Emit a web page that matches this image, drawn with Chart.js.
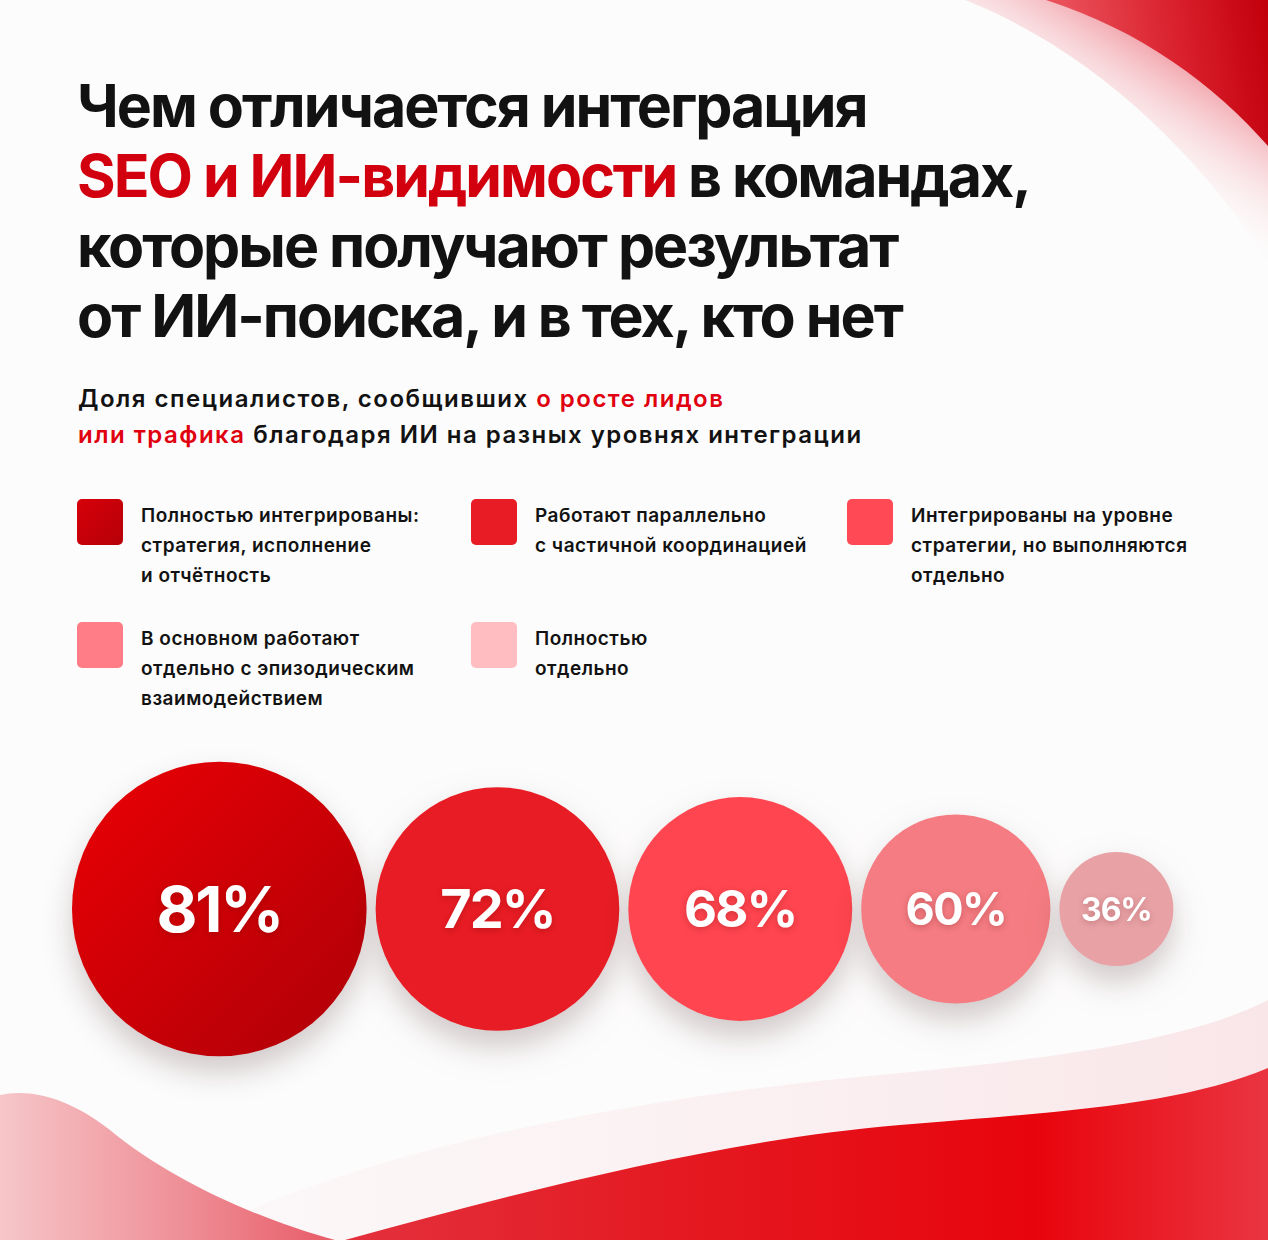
<!DOCTYPE html>
<html lang="ru">
<head>
<meta charset="utf-8">
<title>Интеграция SEO и ИИ-видимости</title>
<script src="https://cdn.jsdelivr.net/npm/chart.js@4.4.1/dist/chart.umd.min.js"></script>
<style>
  html, body { margin: 0; padding: 0; }
  body {
    width: 1268px; height: 1240px; position: relative; overflow: hidden;
    background: #fcfcfc; color: #121212;
    font-family: Inter, "Noto Sans", sans-serif;
  }
  #bg { position: absolute; left: 0; top: 0; z-index: 0; }
  h1 {
    position: absolute; left: 77px; top: 71px; margin: 0; z-index: 1;
    font-size: 59px; line-height: 70px; font-weight: 700; letter-spacing: -2px;
  }
  h1 .red { color: #d2000f; }
  .sub {
    position: absolute; left: 78px; top: 381px; z-index: 1;
    font-size: 24px; line-height: 36px; font-weight: 600; letter-spacing: 1.5px;
  }
  .sub .red { color: #e0000f; }
  #legend {
    position: absolute; left: 77px; top: 499px; z-index: 1;
    display: grid; grid-template-columns: 394px 376px 370px; grid-auto-rows: 123px;
  }
  .item { display: flex; align-items: flex-start; }
  .sw { width: 46px; height: 46px; border-radius: 5px; flex: none; }
  .lbl { margin-left: 18px; margin-top: 2px; font-size: 19px; line-height: 30px; font-weight: 600; letter-spacing: 0.5px; white-space: pre-line; }
  .chart-box { position: absolute; left: 0; top: 709px; width: 1268px; height: 400px; z-index: 1; }
</style>
</head>
<body>
<svg id="bg" width="1268" height="1240" viewBox="0 0 1268 1240">
  <defs>
    <linearGradient id="topFade" gradientUnits="userSpaceOnUse" x1="1165" y1="55" x2="1095" y2="165">
      <stop offset="0" stop-color="#f2a9b0" stop-opacity="1"/>
      <stop offset="1" stop-color="#ffffff" stop-opacity="0"/>
    </linearGradient>
    <linearGradient id="topRed" gradientUnits="userSpaceOnUse" x1="1070" y1="50" x2="1268" y2="20">
      <stop offset="0" stop-color="#e9505a"/>
      <stop offset="0.55" stop-color="#d9202c"/>
      <stop offset="1" stop-color="#c2000c"/>
    </linearGradient>
    <linearGradient id="botBand" gradientUnits="userSpaceOnUse" x1="200" y1="0" x2="1268" y2="0">
      <stop offset="0" stop-color="#fbeef0" stop-opacity="0.3"/>
      <stop offset="1" stop-color="#f9e6e9"/>
    </linearGradient>
    <linearGradient id="botRed" gradientUnits="userSpaceOnUse" x1="340" y1="0" x2="1268" y2="0">
      <stop offset="0" stop-color="#e3313d"/>
      <stop offset="0.35" stop-color="#e41a22"/>
      <stop offset="0.75" stop-color="#e8040c"/>
      <stop offset="1" stop-color="#ea3541"/>
    </linearGradient>
    <linearGradient id="botPink" gradientUnits="userSpaceOnUse" x1="0" y1="0" x2="320" y2="0">
      <stop offset="0" stop-color="#f6c6c9"/>
      <stop offset="0.6" stop-color="#ee8c94"/>
      <stop offset="1" stop-color="#e8606c"/>
    </linearGradient>
  </defs>
  <path d="M 965 0 C 1080 45 1190 140 1268 262 L 1268 0 Z" fill="url(#topFade)"/>
  <path d="M 1046 0 C 1140 30 1215 85 1268 146 L 1268 0 Z" fill="url(#topRed)"/>
  <path d="M 190 1240 C 330 1160 600 1100 880 1075 C 1060 1058 1190 1040 1268 1000 L 1268 1240 Z" fill="url(#botBand)"/>
  <path d="M 0 1095 C 30 1088 70 1098 110 1130 C 170 1180 260 1220 335 1240 L 0 1240 Z" fill="url(#botPink)"/>
  <path d="M 345 1240 C 520 1192 720 1140 900 1125 C 1060 1112 1180 1105 1268 1068 L 1268 1240 Z" fill="url(#botRed)"/>
</svg>

<h1>Чем отличается интеграция<br><span class="red">SEO и ИИ-видимости</span> в командах,<br>которые получают результат<br>от ИИ-поиска, и в тех, кто нет</h1>
<div class="sub">Доля специалистов, сообщивших <span class="red">о росте лидов<br>или трафика</span> благодаря ИИ на разных уровнях интеграции</div>

<div id="legend"></div>

<div class="chart-box">
  <canvas id="bubble-chart"></canvas>
</div>

<script>
// integration levels, top to bottom of the legend
const categories = [
  "Полностью интегрированы:\nстратегия, исполнение\nи отчётность",
  "Работают параллельно\nс частичной координацией",
  "Интегрированы на уровне\nстратегии, но выполняются\nотдельно",
  "В основном работают\nотдельно с эпизодическим\nвзаимодействием",
  "Полностью\nотдельно"
];
// share of specialists reporting growth, %
const shares = [81, 72, 68, 60, 36];

const legendColors = ["#c8000b", "#e81c24", "#ff4a55", "#ff7d86", "#ffbdc1"];
const bubbleColors = ["#d20008", "#e81c24", "#ff454f", "#f47c82", "#e8a2a6"];

// legend
const legendEl = document.getElementById("legend");
categories.forEach((label, i) => {
  const item = document.createElement("div");
  item.className = "item";
  const sw = document.createElement("div");
  sw.className = "sw";
  sw.style.background = i === 0 ? "linear-gradient(135deg, #d6000a, #b60008)" : legendColors[i];
  const txt = document.createElement("div");
  txt.className = "lbl";
  txt.textContent = label;
  item.appendChild(sw);
  item.appendChild(txt);
  legendEl.appendChild(item);
});

// bubble size grows with the share
const radiusFor = (v) => 57 * Math.exp(0.0211 * (v - 36));

// bubbles sit side by side, each one just after the previous
const GAP = 9;
let cursor = 72;
const points = shares.map((v) => {
  const r = radiusFor(v);
  const x = cursor + r;
  cursor += 2 * r + GAP;
  return { x: x, y: 0, r: r };
});

const softShadow = {
  id: "softShadow",
  beforeDatasetsDraw(chart) {
    const c = chart.ctx;
    c.save();
    c.shadowColor = "rgba(40, 0, 0, 0.2)";
    c.shadowBlur = 30;
    c.shadowOffsetY = 16;
  },
  afterDatasetsDraw(chart) {
    chart.ctx.restore();
  }
};

const valueLabels = {
  id: "valueLabels",
  afterDatasetsDraw(chart) {
    const c = chart.ctx;
    chart.getDatasetMeta(0).data.forEach((el, i) => {
      const size = Math.round(12.4 + 0.344 * points[i].r);
      c.save();
      c.font = "700 " + size + "px Inter, sans-serif";
      c.letterSpacing = (-size * 0.035).toFixed(1) + "px";
      c.fillStyle = "#ffffff";
      c.textAlign = "center";
      c.textBaseline = "middle";
      c.shadowColor = "rgba(90, 0, 0, 0.25)";
      c.shadowBlur = 6;
      c.shadowOffsetY = 2;
      c.fillText(shares[i] + "%", el.x, el.y + size * 0.06);
      c.restore();
    });
  }
};

const ctx = document.getElementById("bubble-chart").getContext("2d");
new Chart(ctx, {
  type: "bubble",
  data: {
    labels: categories,
    datasets: [{
      label: "Доля специалистов",
      data: points,
      clip: false,
      borderWidth: 0,
      backgroundColor: (context) => {
        const i = context.dataIndex;
        const chart = context.chart;
        if (i === 0 && chart.chartArea && context.raw) {
          const p = context.raw;
          const cx = chart.scales.x.getPixelForValue(p.x);
          const cy = chart.scales.y.getPixelForValue(p.y);
          const g = chart.ctx.createLinearGradient(cx - p.r, cy - p.r, cx + p.r, cy + p.r);
          g.addColorStop(0, "#ea0004");
          g.addColorStop(1, "#ae0008");
          return g;
        }
        return bubbleColors[i];
      }
    }]
  },
  options: {
    responsive: true,
    maintainAspectRatio: false,
    animation: false,
    events: [],
    layout: { padding: 0, autoPadding: false },
    plugins: { legend: { display: false }, tooltip: { enabled: false } },
    scales: {
      x: { type: "linear", min: 0, max: 1268, display: false },
      y: { type: "linear", min: -1, max: 1, display: false }
    }
  },
  plugins: [softShadow, valueLabels]
});
</script>
</body>
</html>
